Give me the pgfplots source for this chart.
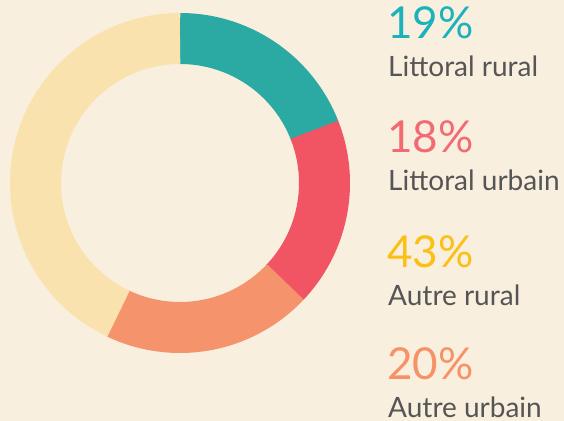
\documentclass[border=0pt]{standalone}
\usepackage{pgfplots}
\pgfplotsset{compat=1.18}
\usepackage{fontspec}
\setmainfont{Lato}
\definecolor{bgc}{HTML}{F9EFDE}
\definecolor{cteal}{HTML}{2AAAA3}
\definecolor{cred}{HTML}{F15462}
\definecolor{csalmon}{HTML}{F5936C}
\definecolor{cyellow}{HTML}{FAE2AF}
\definecolor{tteal}{HTML}{1AB2BD}
\definecolor{tred}{HTML}{F26B73}
\definecolor{tyellow}{HTML}{FCBF14}
\definecolor{tsalmon}{HTML}{F79267}
\definecolor{tgray}{HTML}{555555}
% data (percent shares, clockwise from top)
\def\pA{19}\def\pB{18}\def\pC{20}\def\pD{43}
\pgfmathsetmacro\aA{0}
\pgfmathsetmacro\aB{\pA*3.6}
\pgfmathsetmacro\aC{(\pA+\pB)*3.6}
\pgfmathsetmacro\aD{(\pA+\pB+\pC)*3.6}
\pgfmathsetmacro\aE{(\pA+\pB+\pC+\pD)*3.6}
\pgfmathsetmacro\aBx{\aB+0.3}
\pgfmathsetmacro\aCx{\aC+0.3}
\pgfmathsetmacro\aDx{\aD+0.3}
\def\cx{180}\def\cy{238}\def\rr{144.5}
\begin{document}
\begin{tikzpicture}
\fill[bgc] (0,0) rectangle (564bp,421bp);
\begin{axis}[at={(0,0)}, anchor=south west, scale only axis,
  width=564bp, height=421bp, xmin=0, xmax=564, ymin=0, ymax=421,
  hide axis, clip=false]
\addplot[cteal, line width=51bp, domain=\aA:\aBx, samples=60] ({\cx+\rr*sin(x)},{\cy+\rr*cos(x)});
\addplot[cred, line width=51bp, domain=\aB:\aCx, samples=60] ({\cx+\rr*sin(x)},{\cy+\rr*cos(x)});
\addplot[csalmon, line width=51bp, domain=\aC:\aDx, samples=60] ({\cx+\rr*sin(x)},{\cy+\rr*cos(x)});
\addplot[cyellow, line width=51bp, domain=\aD:\aE, samples=120] ({\cx+\rr*sin(x)},{\cy+\rr*cos(x)});
\tikzset{pct/.style={anchor=base west, inner sep=0pt, font=\fontsize{44bp}{44bp}\selectfont},
         lab/.style={anchor=base west, inner sep=0pt, text=tgray, font=\fontsize{28bp}{30bp}\selectfont}}
\node[pct, text=tteal] at (axis cs:387,382) {\pA\%};
\node[lab] at (axis cs:388,344) {Littoral rural};
\node[pct, text=tred] at (axis cs:387,268) {\pB\%};
\node[lab] at (axis cs:388,230) {Littoral urbain};
\node[pct, text=tyellow] at (axis cs:387,153) {\pD\%};
\node[lab] at (axis cs:388,115) {Autre rural};
\node[pct, text=tsalmon] at (axis cs:387,41) {\pC\%};
\node[lab] at (axis cs:388,3) {Autre urbain};
\end{axis}
\end{tikzpicture}
\end{document}
